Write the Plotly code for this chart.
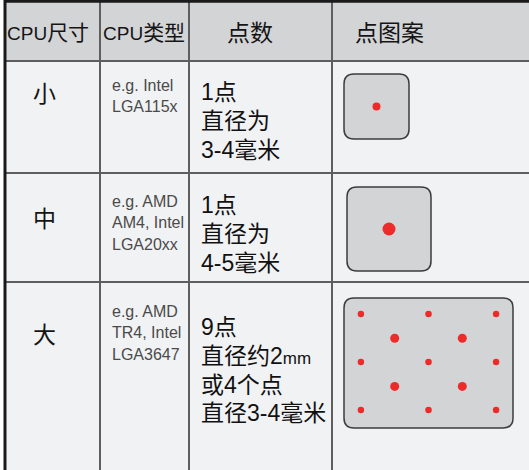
import plotly.graph_objects as go

# ---------------- data ----------------
headers = ["CPU尺寸", "CPU类型", "点数", "点图案"]
sizes = ["小", "中", "大"]
cpu_types = [
    ["e.g. Intel", "LGA115x"],
    ["e.g. AMD", "AM4, Intel", "LGA20xx"],
    ["e.g. AMD", "TR4, Intel", "LGA3647"],
]
dot_desc = [
    ["1点", "直径为", "3-4毫米"],
    ["1点", "直径为", "4-5毫米"],
    ["9点", "直径约2mm", "或4个点", "直径3-4毫米"],
]
# dot patterns: relative positions inside each pattern box (0..1), and dot diameters
pattern_x = [
    [0.5],
    [0.5],
    [0.1, 0.5, 0.9, 0.1, 0.5, 0.9, 0.1, 0.5, 0.9, 0.3, 0.7, 0.3, 0.7],
]
pattern_y = [
    [0.5],
    [0.5],
    [0.123, 0.123, 0.123, 0.492, 0.492, 0.492, 0.862, 0.862, 0.862, 0.31, 0.31, 0.68, 0.68],
]
pattern_d = [
    [8],
    [13],
    [6.5, 6.5, 6.5, 6.5, 6.5, 6.5, 6.5, 6.5, 6.5, 9, 9, 9, 9],
]

# ---------------- layout geometry ----------------
W, H = 529, 470
col_edges = [5, 100, 189, 332, 529]
row_edges = [2, 61, 173, 282, 470]
header_cx = [48, 144, 250, 389]
size_cx = 44
size_cy = [92, 217, 333]
type_x = 110
type_top = [85, 201, 311]
type_step = 21.5
desc_x = 199
desc_top = [92, 205, 327]
desc_step = 28.8
boxes = [(344, 74, 409, 139), (347, 187, 431, 271), (344, 298, 513, 428)]

HEADER_BG = "#d3d4d6"
BODY_BG = "#f1f2f4"
GRID = "#5e5e5e"
DOT = "#ee2b2b"
CJK = "Noto Sans CJK SC"
LATIN = "Liberation Sans"

fig = go.Figure()
shapes = []
annotations = []

# backgrounds
shapes.append(dict(type="rect", x0=col_edges[0], x1=W, y0=row_edges[0], y1=row_edges[1],
                   fillcolor=HEADER_BG, line_width=0, layer="below"))
shapes.append(dict(type="rect", x0=col_edges[0], x1=W, y0=row_edges[1], y1=H,
                   fillcolor=BODY_BG, line_width=0, layer="below"))

# grid lines
for x in col_edges[1:-1]:
    shapes.append(dict(type="line", x0=x, x1=x, y0=row_edges[0], y1=H,
                       line=dict(color=GRID, width=2)))
for y in row_edges[1:-1]:
    shapes.append(dict(type="line", x0=col_edges[0], x1=W, y0=y, y1=y,
                       line=dict(color=GRID, width=2)))
# outer border (top and left)
shapes.append(dict(type="line", x0=col_edges[0], x1=W, y0=1.2, y1=1.2,
                   line=dict(color="#1a1a1a", width=3)))
shapes.append(dict(type="line", x0=col_edges[0], x1=col_edges[0], y0=0, y1=H,
                   line=dict(color="#1a1a1a", width=3)))

# header texts
for i, h in enumerate(headers):
    if h.startswith("CPU"):
        txt = "<span style='font-size:19px'>CPU</span>" + h[3:]
        size = 21
    else:
        txt = h
        size = 23
    annotations.append(dict(x=header_cx[i], y=(row_edges[0] + row_edges[1]) / 2 + 1, text=txt,
                            showarrow=False, xanchor="center", yanchor="middle",
                            font=dict(family=LATIN + ", " + CJK + ", sans-serif", size=size,
                                      color="#151515")))

# size labels
for i, s in enumerate(sizes):
    annotations.append(dict(x=size_cx, y=size_cy[i], text=s, showarrow=False,
                            xanchor="center", yanchor="middle",
                            font=dict(family=CJK, size=23, color="#151515")))

# CPU types
for i, lines in enumerate(cpu_types):
    for j, line in enumerate(lines):
        annotations.append(dict(x=type_x, y=type_top[i] + j * type_step, text=line, showarrow=False,
                                xanchor="left", yanchor="middle",
                                font=dict(family=LATIN + ", sans-serif", size=16, color="#4a4a4a")))

# dot descriptions
for i, lines in enumerate(dot_desc):
    for j, line in enumerate(lines):
        txt = line.replace("mm", "<span style='font-size:17px'>mm</span>")
        annotations.append(dict(x=desc_x, y=desc_top[i] + j * desc_step, text=txt, showarrow=False,
                                xanchor="left", yanchor="middle",
                                font=dict(family=LATIN + ", " + CJK + ", sans-serif",
                                          size=23, color="#111111")))

# pattern boxes (rounded rectangles)
def rounded(x0, y0, x1, y1, r):
    return (f"M {x0+r},{y0} L {x1-r},{y0} Q {x1},{y0} {x1},{y0+r} "
            f"L {x1},{y1-r} Q {x1},{y1} {x1-r},{y1} L {x0+r},{y1} "
            f"Q {x0},{y1} {x0},{y1-r} L {x0},{y0+r} Q {x0},{y0} {x0+r},{y0} Z")

for (x0, y0, x1, y1) in boxes:
    shapes.append(dict(type="path", path=rounded(x0, y0, x1, y1, 10),
                       fillcolor=HEADER_BG, line=dict(color="#3c3c3c", width=1.5), layer="below"))

# dots
for i, (x0, y0, x1, y1) in enumerate(boxes):
    xs = [x0 + fx * (x1 - x0) for fx in pattern_x[i]]
    ys = [y0 + fy * (y1 - y0) for fy in pattern_y[i]]
    fig.add_trace(go.Scatter(x=xs, y=ys, mode="markers",
                             marker=dict(size=pattern_d[i], color=DOT, opacity=1, line=dict(width=0)),
                             hoverinfo="skip", showlegend=False))

fig.update_layout(
    width=W, height=H,
    margin=dict(l=0, r=0, t=0, b=0),
    paper_bgcolor="white", plot_bgcolor="white",
    xaxis=dict(range=[0, W], visible=False, fixedrange=True),
    yaxis=dict(range=[H, 0], visible=False, fixedrange=True),
    shapes=shapes, annotations=annotations,
    showlegend=False,
)
fig.write_html("out.html", config={"displayModeBar": False},
               post_script="document.body.style.margin='0';document.body.style.overflow='hidden';")
